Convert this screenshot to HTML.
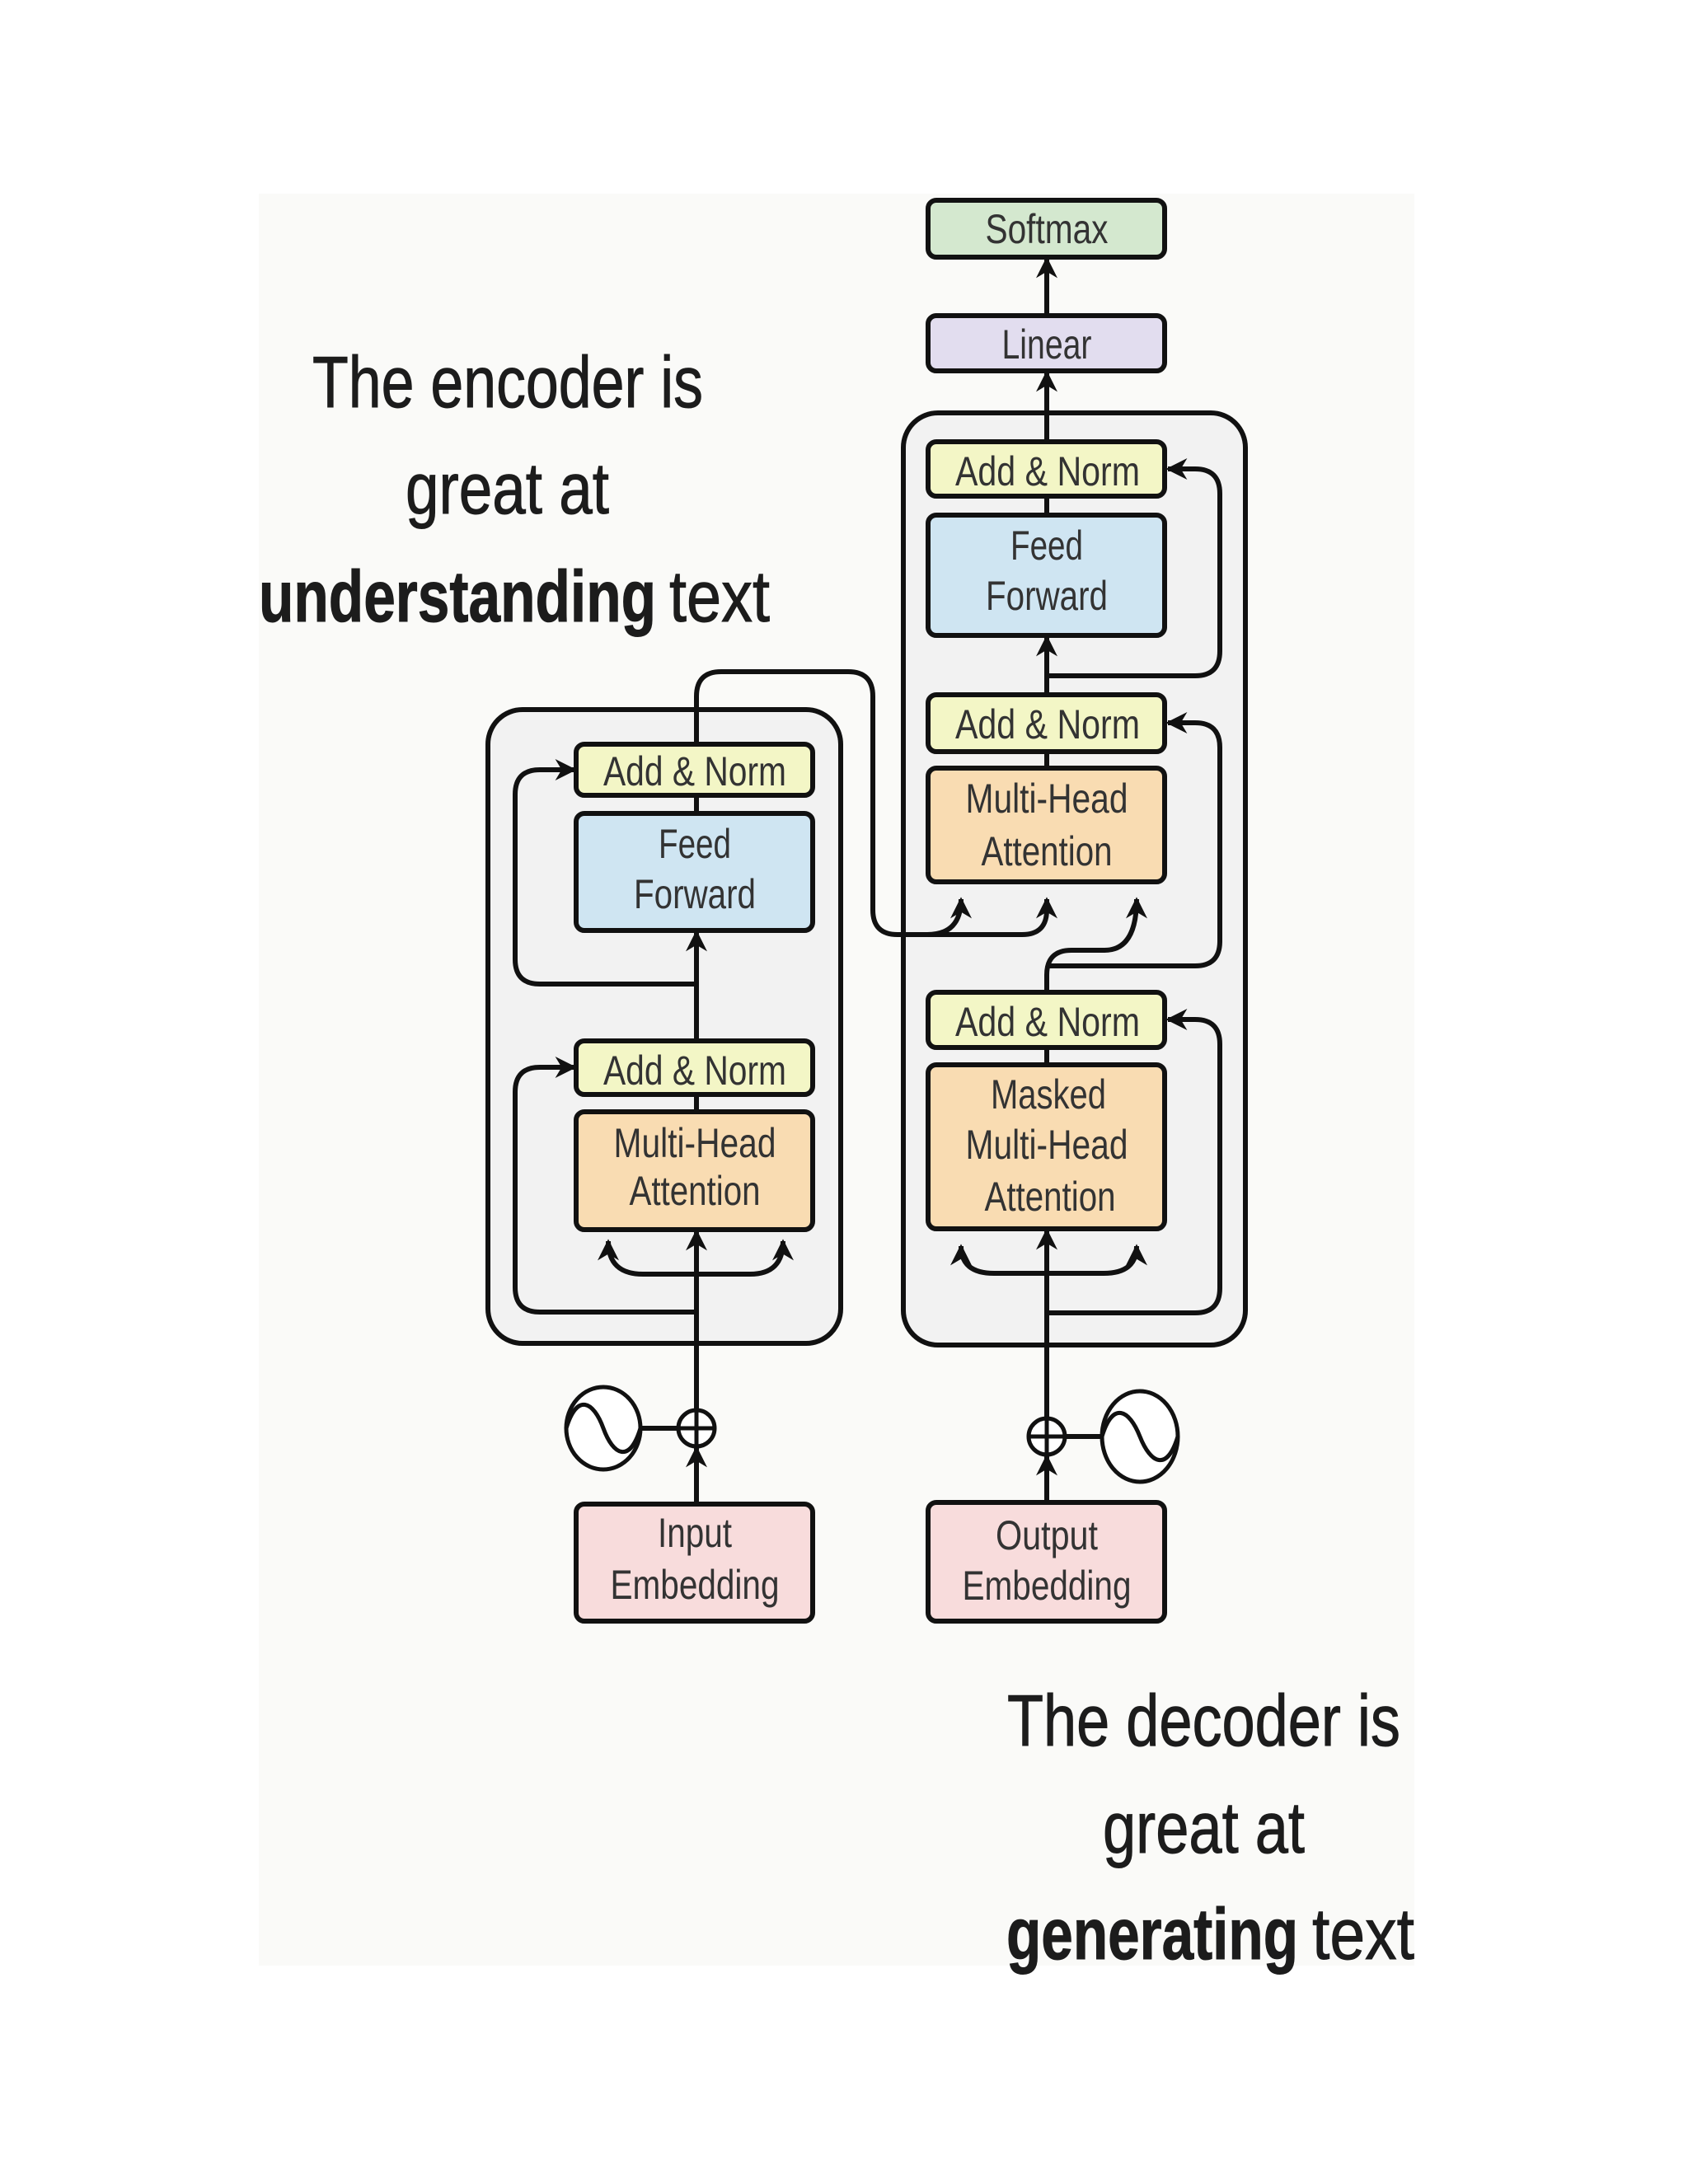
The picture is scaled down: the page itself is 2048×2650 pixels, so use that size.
<!DOCTYPE html>
<html><head><meta charset="utf-8"><style>html,body{margin:0;padding:0;background:#fff}svg{display:block}</style></head>
<body>
<svg width="2048" height="2650" viewBox="0 0 2048 2650" xmlns="http://www.w3.org/2000/svg" font-family="Liberation Sans, sans-serif">
<defs>
<marker id="a" viewBox="0 0 10 10" refX="9" refY="5" markerWidth="28" markerHeight="26" markerUnits="userSpaceOnUse" orient="auto"><path d="M0,0 L10,5 L0,10 L3,5 z" fill="#111"/></marker>
</defs>
<rect x="0" y="0" width="2048" height="2650" fill="#fff"/>
<rect x="314" y="235" width="1402" height="2150" fill="#fafaf8"/>

<g fill="#1c1c1c" font-size="88" stroke="#1c1c1c" stroke-width="1">
<text x="379" y="494" textLength="474" lengthAdjust="spacingAndGlyphs">The encoder is</text>
<text x="492" y="623" textLength="247" lengthAdjust="spacingAndGlyphs">great at</text>
<text x="314" y="754" textLength="482" lengthAdjust="spacingAndGlyphs" font-weight="bold">understanding</text>
<text x="812" y="754" textLength="122" lengthAdjust="spacingAndGlyphs">text</text>
<text x="1222" y="2118" textLength="477" lengthAdjust="spacingAndGlyphs">The decoder is</text>
<text x="1338" y="2248" textLength="245" lengthAdjust="spacingAndGlyphs">great at</text>
<text x="1221" y="2377" textLength="354" lengthAdjust="spacingAndGlyphs" font-weight="bold">generating</text>
<text x="1592" y="2377" textLength="124" lengthAdjust="spacingAndGlyphs">text</text>
</g>

<rect x="592" y="861" width="428" height="769" rx="42" fill="#f2f2f2" stroke="#111" stroke-width="6"/>
<rect x="1096" y="501" width="415" height="1131" rx="42" fill="#f2f2f2" stroke="#111" stroke-width="6"/>

<g fill="none" stroke="#111" stroke-width="6">
<path d="M845,1825 V1757" marker-end="url(#a)"/>
<path d="M845,1711 V1494" marker-end="url(#a)"/>
<path d="M845,1349 V1328"/>
<path d="M845,1263 V1131" marker-end="url(#a)"/>
<path d="M845,987 V965"/>
<path d="M845,1546 H780 Q738,1546 738,1506" marker-end="url(#a)"/>
<path d="M845,1546 H910 Q950,1546 950,1506" marker-end="url(#a)"/>
<path d="M845,1592 H655 Q625,1592 625,1562 V1325 Q625,1295 655,1295 H697" marker-end="url(#a)"/>
<path d="M845,1194 H655 Q625,1194 625,1164 V964 Q625,934 655,934 H697" marker-end="url(#a)"/>
<path d="M776,1733 H823"/>
<path d="M845,903 V845 Q845,815 875,815 H1029 Q1059,815 1059,845 V1104 Q1059,1134 1089,1134 H1240 Q1270,1134 1270,1104 V1091" marker-end="url(#a)"/>
<path d="M1125,1134 Q1166,1134 1166,1091" marker-end="url(#a)"/>
<path d="M1270,1823 V1767" marker-end="url(#a)"/>
<path d="M1270,1721 V1493" marker-end="url(#a)"/>
<path d="M1270,1292 V1271"/>
<path d="M1270,1204 V1183 Q1270,1153 1300,1153 H1340 Q1379,1153 1379,1091" marker-end="url(#a)"/>
<path d="M1270,932 V912"/>
<path d="M1270,843 V773" marker-end="url(#a)"/>
<path d="M1270,625 V602"/>
<path d="M1270,536 V452" marker-end="url(#a)"/>
<path d="M1270,383 V314" marker-end="url(#a)"/>
<path d="M1270,1545 H1206 Q1166,1545 1166,1512" marker-end="url(#a)"/>
<path d="M1270,1545 H1339 Q1379,1545 1379,1512" marker-end="url(#a)"/>
<path d="M1270,1593 H1450 Q1480,1593 1480,1563 V1267 Q1480,1237 1450,1237 H1417" marker-end="url(#a)"/>
<path d="M1270,1172 H1450 Q1480,1172 1480,1142 V907 Q1480,877 1450,877 H1417" marker-end="url(#a)"/>
<path d="M1270,820 H1450 Q1480,820 1480,790 V599 Q1480,569 1450,569 H1417" marker-end="url(#a)"/>
<path d="M1292,1743 H1337"/>
</g>

<g fill="#fff" stroke="#111" stroke-width="5">
<circle cx="845" cy="1733" r="22"/>
<path d="M823,1733 H867 M845,1711 V1755" fill="none"/>
<ellipse cx="732" cy="1733" rx="45" ry="50"/>
<path d="M687,1733 C700,1690 720,1700 732,1733 C744,1766 764,1776 777,1733" fill="none"/>
<circle cx="1270" cy="1743" r="22"/>
<path d="M1248,1743 H1292 M1270,1721 V1765" fill="none"/>
<ellipse cx="1383" cy="1743" rx="46" ry="55"/>
<path d="M1337,1743 C1350,1700 1370,1710 1383,1743 C1396,1776 1416,1786 1429,1743" fill="none"/>
</g>

<g stroke="#111" stroke-width="6">
<rect x="1126" y="243" width="287" height="69" rx="10" fill="#d4e8cf"/>
<rect x="1126" y="383" width="287" height="67" rx="10" fill="#e2ddef"/>
<rect x="1126" y="536" width="287" height="66" rx="10" fill="#f3f6c6"/>
<rect x="1126" y="625" width="287" height="146" rx="10" fill="#cfe5f2"/>
<rect x="1126" y="843" width="287" height="69" rx="10" fill="#f3f6c6"/>
<rect x="1126" y="932" width="287" height="138" rx="10" fill="#f9dcb2"/>
<rect x="1126" y="1204" width="287" height="67" rx="10" fill="#f3f6c6"/>
<rect x="1126" y="1292" width="287" height="199" rx="10" fill="#f9dcb2"/>
<rect x="1126" y="1823" width="287" height="144" rx="10" fill="#f8dcdc"/>
<rect x="699" y="903" width="287" height="62" rx="10" fill="#f3f6c6"/>
<rect x="699" y="987" width="287" height="142" rx="10" fill="#cfe5f2"/>
<rect x="699" y="1263" width="287" height="65" rx="10" fill="#f3f6c6"/>
<rect x="699" y="1349" width="287" height="143" rx="10" fill="#f9dcb2"/>
<rect x="699" y="1825" width="287" height="142" rx="10" fill="#f8dcdc"/>
</g>

<g fill="#333" font-size="50" text-anchor="middle">
<text x="1270" y="295" textLength="149" lengthAdjust="spacingAndGlyphs">Softmax</text>
<text x="1270" y="435" textLength="109" lengthAdjust="spacingAndGlyphs">Linear</text>
<text x="1271" y="589" textLength="224" lengthAdjust="spacingAndGlyphs">Add &amp; Norm</text>
<text x="1270" y="679" textLength="88" lengthAdjust="spacingAndGlyphs">Feed</text>
<text x="1270" y="740" textLength="148" lengthAdjust="spacingAndGlyphs">Forward</text>
<text x="1271" y="896" textLength="224" lengthAdjust="spacingAndGlyphs">Add &amp; Norm</text>
<text x="1270" y="986" textLength="197" lengthAdjust="spacingAndGlyphs">Multi-Head</text>
<text x="1270" y="1050" textLength="159" lengthAdjust="spacingAndGlyphs">Attention</text>
<text x="1271" y="1257" textLength="224" lengthAdjust="spacingAndGlyphs">Add &amp; Norm</text>
<text x="1272" y="1345" textLength="140" lengthAdjust="spacingAndGlyphs">Masked</text>
<text x="1270" y="1406" textLength="197" lengthAdjust="spacingAndGlyphs">Multi-Head</text>
<text x="1274" y="1469" textLength="159" lengthAdjust="spacingAndGlyphs">Attention</text>
<text x="1270" y="1880" textLength="124" lengthAdjust="spacingAndGlyphs">Output</text>
<text x="1270" y="1941" textLength="205" lengthAdjust="spacingAndGlyphs">Embedding</text>
<text x="843" y="953" textLength="222" lengthAdjust="spacingAndGlyphs">Add &amp; Norm</text>
<text x="843" y="1041" textLength="88" lengthAdjust="spacingAndGlyphs">Feed</text>
<text x="843" y="1102" textLength="148" lengthAdjust="spacingAndGlyphs">Forward</text>
<text x="843" y="1316" textLength="222" lengthAdjust="spacingAndGlyphs">Add &amp; Norm</text>
<text x="843" y="1404" textLength="197" lengthAdjust="spacingAndGlyphs">Multi-Head</text>
<text x="843" y="1462" textLength="159" lengthAdjust="spacingAndGlyphs">Attention</text>
<text x="843" y="1877" textLength="90" lengthAdjust="spacingAndGlyphs">Input</text>
<text x="843" y="1940" textLength="205" lengthAdjust="spacingAndGlyphs">Embedding</text>
</g>
</svg>
</body></html>
